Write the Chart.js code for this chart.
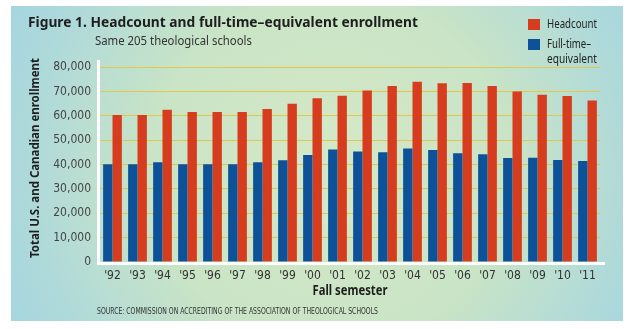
<!DOCTYPE html>
<html>
<head>
<meta charset="utf-8">
<script src="https://cdn.jsdelivr.net/npm/chart.js@4/dist/chart.umd.min.js"></script>
<style>
  html, body { margin: 0; padding: 0; background: #fff; }
  #wrap { width: 632px; height: 329px; }
</style>
</head>
<body>
<div id="wrap"><canvas id="myChart" width="632" height="329"></canvas></div>
<script>
var years = ["'92", "'93", "'94", "'95", "'96", "'97", "'98", "'99", "'00", "'01",
             "'02", "'03", "'04", "'05", "'06", "'07", "'08", "'09", "'10", "'11"];
var headcount = [60300, 60300, 62500, 61500, 61500, 61500, 62800, 64900, 67200, 68200,
                 70400, 72200, 74000, 73300, 73400, 72200, 70000, 68600, 68100, 66300];
var fte = [40100, 40100, 40900, 40100, 40100, 40100, 40900, 41700, 43900, 46200,
           45300, 45000, 46600, 46000, 44600, 44200, 42700, 42800, 41800, 41400];
var yTicks = [0, 10000, 20000, 30000, 40000, 50000, 60000, 70000, 80000];

var RED = "#d63c1e";
var BLUE = "#0d5299";
var NARROW = "'Liberation Sans Narrow', 'DejaVu Sans Condensed', 'Noto Sans', sans-serif";
var SANS = "'Noto Sans', 'Open Sans', sans-serif";

// background, texts and legend drawn by hand
var decor = {
  id: "decor",
  beforeDraw: function(chart) {
    var ctx = chart.ctx;
    ctx.save();
    ctx.fillStyle = "#fff";
    ctx.fillRect(0, 0, chart.width, chart.height);
    var g = ctx.createRadialGradient(330, 170, 30, 330, 170, 360);
    g.addColorStop(0, "#d3e8c6");
    g.addColorStop(0.45, "#c9e4c6");
    g.addColorStop(0.8, "#b0dad9");
    g.addColorStop(1, "#a4d5e0");
    ctx.fillStyle = g;
    ctx.fillRect(11, 6, 612, 315);
    ctx.restore();
  },
  afterDatasetsDraw: function(chart) {
    var ctx = chart.ctx;
    var a = chart.chartArea;
    ctx.save();
    // white axis lines
    ctx.fillStyle = "#fff";
    ctx.fillRect(97, 60, 3, a.bottom + 3 - 60);
    ctx.fillRect(97, a.bottom, 508, 3);

    ctx.fillStyle = "#1e1e1e";
    ctx.textBaseline = "middle";
    ctx.textAlign = "left";
    ctx.font = "bold 14px " + SANS;
    ctx.fillText("Figure 1. Headcount and full-time\u2013equivalent enrollment", 28, 23, 390);
    ctx.fillStyle = "#333";
    ctx.font = "12px " + SANS;
    ctx.fillText("Same 205 theological schools", 95, 42, 157);

    // legend
    ctx.fillStyle = RED;
    ctx.fillRect(528, 19, 12, 11);
    ctx.fillStyle = BLUE;
    ctx.fillRect(528, 39, 12, 11);
    ctx.fillStyle = "#222";
    ctx.font = "12px " + SANS;
    ctx.fillText("Headcount", 547, 25, 50);
    ctx.fillText("Full-time\u2013", 547, 45, 44);
    ctx.fillText("equivalent", 547, 60, 50);

    // axis titles
    ctx.fillStyle = "#1e1e1e";
    ctx.font = "bold 14px " + SANS;
    ctx.textAlign = "center";
    ctx.fillText("Fall semester", 350, 291, 75);
    ctx.save();
    ctx.translate(35, 158);
    ctx.rotate(-Math.PI / 2);
    ctx.font = "bold 13px " + SANS;
    ctx.fillText("Total U.S. and Canadian enrollment", 0, 0, 200);
    ctx.restore();

    ctx.fillStyle = "#333";
    ctx.textAlign = "left";
    ctx.font = "8px " + NARROW;
    ctx.fillText("SOURCE: COMMISSION ON ACCREDITING OF THE ASSOCIATION OF THEOLOGICAL SCHOOLS", 97, 312, 281);
    ctx.restore();
  }
};

new Chart("myChart", {
  type: "bar",
  data: {
    labels: years,
    datasets: [
      { label: "Full-time\u2013equivalent", data: fte, backgroundColor: BLUE },
      { label: "Headcount", data: headcount, backgroundColor: RED }
    ]
  },
  plugins: [decor],
  options: {
    responsive: false,
    animation: false,
    categoryPercentage: 0.75,
    barPercentage: 1,
    layout: { padding: { top: 67, right: 32, left: 0, bottom: 0 } },
    plugins: {
      legend: { display: false },
      title: { display: false },
      tooltip: { enabled: false }
    },
    scales: {
      x: {
        grid: { display: false, drawTicks: false },
        border: { display: false },
        ticks: { color: "#333", font: { family: NARROW, size: 12 }, padding: 7, maxRotation: 0, autoSkip: false },
        afterFit: function(s) { s.height = 67; }
      },
      y: {
        min: 0,
        max: 80000,
        afterBuildTicks: function(s) { s.ticks = yTicks.map(function(v) { return { value: v }; }); },
        grid: { color: "#e3c64a", lineWidth: 1, drawTicks: false },
        border: { display: false },
        ticks: {
          color: "#444",
          font: { family: NARROW, size: 12 },
          padding: 9,
          callback: function(v) { return v.toLocaleString("en-US"); }
        },
        afterFit: function(s) { s.width = 100; }
      }
    }
  }
});
</script>
</body>
</html>
